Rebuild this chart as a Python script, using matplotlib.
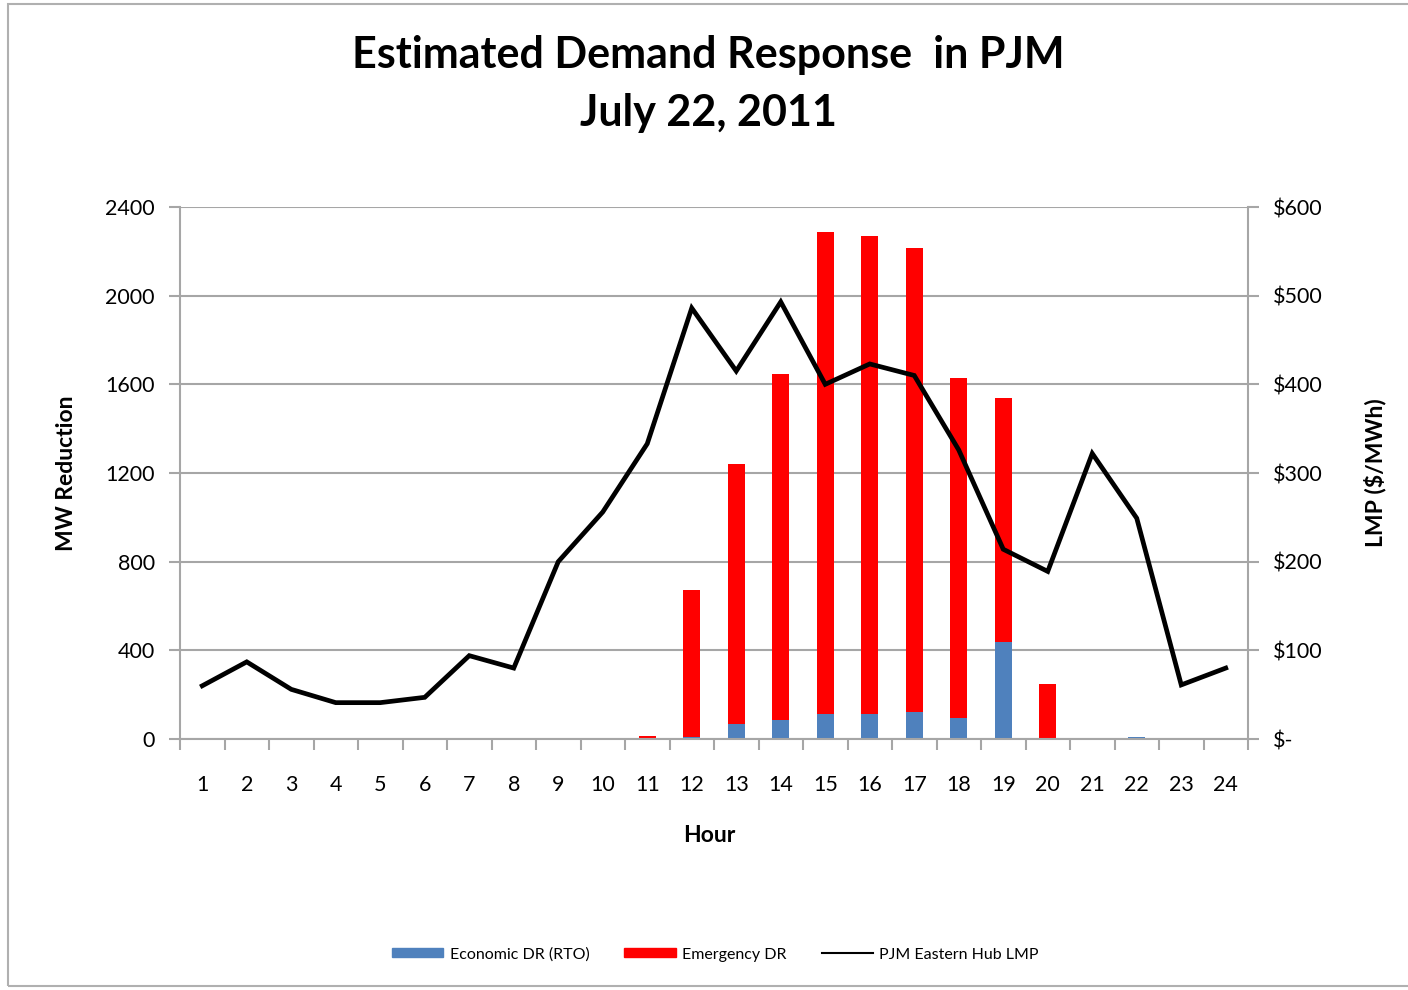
import numpy as np
import matplotlib.pyplot as plt
from matplotlib.ticker import FuncFormatter
from matplotlib.patches import Rectangle, Patch
from matplotlib.lines import Line2D

plt.rcParams['font.family'] = ['Lato', 'DejaVu Sans']

hours = list(range(1, 25))
economic_dr = [0, 0, 0, 0, 0, 0, 0, 0, 0, 0, 0, 8, 68, 86, 113, 113, 122, 95, 437, 0, 0, 8, 0, 0]
emergency_dr = [0, 0, 0, 0, 0, 0, 0, 0, 0, 0, 14, 664, 1172, 1560, 2174, 2156, 2093, 1533, 1101, 248, 0, 0, 0, 0]
lmp = [60, 87, 56, 41, 41, 47, 94, 80, 200, 256, 333, 486, 415, 493, 400, 423, 410, 326, 214, 189, 322, 249, 61, 80]

blue = '#4f81bd'
red = '#ff0000'
grid_c = '#a6a6a6'

fig = plt.figure(figsize=(14.08, 9.9), dpi=100)
fig.patches.append(Rectangle((8 / 1408, 0.004), 1.2, 0.992, transform=fig.transFigure,
                             fill=False, edgecolor='#b0b0b0', lw=1.5))

ax = fig.add_axes([180 / 1408, 1 - 739 / 990, 1068 / 1408, 532 / 990])
x = np.array(hours)
ax.bar(x, economic_dr, width=0.38, color=blue, zorder=2)
ax.bar(x, emergency_dr, width=0.38, bottom=economic_dr, color=red, zorder=2)

ax.set_xlim(0.5, 24.5)
ax.set_ylim(0, 2400)
ax.set_yticks(np.arange(0, 2401, 400))
ax.yaxis.grid(True, color=grid_c, lw=1.5, zorder=0)
ax.set_axisbelow(True)
ax.set_xticks(x)
ax.set_xticks(np.arange(0.5, 25, 1), minor=True)
ax.tick_params(axis='x', which='major', length=0, pad=26, labelsize=15.5)
ax.tick_params(axis='x', which='minor', length=8, width=1.5, color=grid_c)
ax.tick_params(axis='y', length=8, width=1.5, color=grid_c, labelsize=15.5, pad=10)
for s in ['top', 'right']:
    ax.spines[s].set_visible(False)
for s in ['left', 'bottom']:
    ax.spines[s].set_color(grid_c)
    ax.spines[s].set_linewidth(1.5)
ax.set_xlabel('Hour', fontsize=16.5, fontweight='bold')
ax.xaxis.set_label_coords(0.496, -0.162)
ax.set_ylabel('MW Reduction', fontsize=16.5, fontweight='bold')
ax.yaxis.set_label_coords(-0.096, 0.5)

ax2 = ax.twinx()
ax2.plot(x, lmp, color='black', lw=3.4, solid_joinstyle='miter', zorder=3)
ax2.set_ylim(0, 600)
ax2.set_yticks(np.arange(0, 601, 100))
ax2.yaxis.set_major_formatter(FuncFormatter(lambda v, p: '$-' if v == 0 else '${:.0f}'.format(v)))
ax2.tick_params(axis='y', length=8, width=1.5, color=grid_c, labelsize=15.5, pad=10)
for s in ['top', 'left', 'bottom']:
    ax2.spines[s].set_visible(False)
ax2.spines['right'].set_color(grid_c)
ax2.spines['right'].set_linewidth(1.5)
ax2.set_ylabel('LMP ($/MWh)', fontsize=16.5, fontweight='bold', rotation=90)
ax2.yaxis.set_label_coords(1.108, 0.5)

fig.text(0.503, 0.944, 'Estimated Demand Response  in PJM', ha='center', va='center',
         fontsize=31, fontweight='bold')
fig.text(0.503, 0.886, 'July 22, 2011', ha='center', va='center', fontsize=31, fontweight='bold')

handles = [Patch(color=blue), Patch(color=red), Line2D([], [], color='black', lw=1.5)]
fig.legend(handles, ['Economic DR (RTO)', 'Emergency DR', 'PJM Eastern Hub LMP'],
           loc='center', bbox_to_anchor=(0.508, 0.036), ncol=3, frameon=False,
           fontsize=11.5, handlelength=3.2, handleheight=0.5, columnspacing=2.2, handletextpad=0.4)

fig.savefig('out.png', dpi=100)
